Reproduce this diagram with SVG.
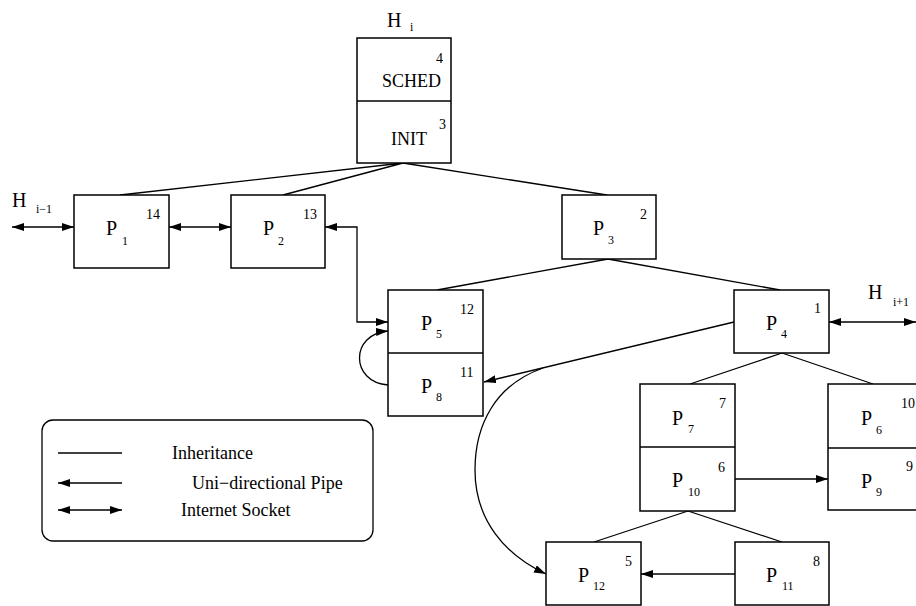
<svg xmlns="http://www.w3.org/2000/svg" width="916" height="606" viewBox="0 0 916 606">
<defs>
<marker id="ah" viewBox="0 0 12 8" refX="12" refY="4" markerWidth="12" markerHeight="8" markerUnits="userSpaceOnUse" orient="auto-start-reverse">
<path d="M0,0 L12,4 L0,8 Z" fill="#000"/>
</marker>
</defs>
<style>
rect.b{fill:#fff;stroke:#000;stroke-width:1.5}
line.d,path.d{stroke:#000;stroke-width:1.5;fill:none}
.c{stroke:#000;stroke-width:1.3;fill:none}
text{font-family:"Liberation Serif","Times New Roman",serif;fill:#000}
.p{font-size:20px}
.s{font-size:12px}
.n{font-size:14px}
.t{font-size:18px}
</style>
<rect width="916" height="606" fill="#fff"/>
<g id="connectors">
<path class="c" d="M403,163 L120,195 M403,163 L283,195 M403,163 L607,195"/>
<path class="c" d="M608,259 L437,290 M608,259 L780,290"/>
<path class="c" d="M782,353 L690,384 M782,353 L873,384"/>
<path class="c" d="M688,511 L594,542 M688,511 L782,542"/>
<line class="c" x1="12" y1="227" x2="74" y2="227" marker-start="url(#ah)" marker-end="url(#ah)"/>
<line class="c" x1="169" y1="227" x2="231" y2="227" marker-start="url(#ah)" marker-end="url(#ah)"/>
<path class="c" d="M325,227 H357 V322 H388" marker-start="url(#ah)" marker-end="url(#ah)"/>
<path class="c" d="M388,385 C350,382 350,334 388,331" marker-end="url(#ah)"/>
<line class="c" x1="734" y1="322" x2="484" y2="382" marker-end="url(#ah)"/>
<path class="c" d="M543,368 C495,385 475,425 475,470 C475,520 505,555 546,574" marker-end="url(#ah)"/>
<line class="c" x1="829" y1="322" x2="916" y2="322" marker-start="url(#ah)" marker-end="url(#ah)"/>
<line class="c" x1="735" y1="479" x2="828" y2="479" marker-end="url(#ah)"/>
<line class="c" x1="735" y1="574" x2="641" y2="574" marker-end="url(#ah)"/>
</g>
<g id="Hi">
<rect class="b" x="357" y="38" width="94" height="125"/>
<line class="c" x1="357" y1="101" x2="451" y2="101"/>
<text class="p" x="387" y="27">H</text><text class="s" x="410" y="31">i</text>
<text class="n" x="436" y="63">4</text>
<text class="t" x="382" y="87">SCHED</text>
<text class="n" x="439" y="129">3</text>
<text class="t" x="391" y="145">INIT</text>
</g>
<g id="Hi-1">
<text class="p" x="12" y="207">H</text><text class="s" x="36" y="213">i−1</text>
</g>
<g id="Hi+1">
<text class="p" x="868" y="299">H</text><text class="s" x="893" y="306">i+1</text>
</g>
<g id="P1">
<rect class="b" x="74" y="195" width="95" height="73"/>
<text class="p" x="106" y="235">P</text><text class="s" x="122" y="245">1</text>
<text class="n" x="146" y="219">14</text>
</g>
<g id="P2">
<rect class="b" x="231" y="195" width="94" height="73"/>
<text class="p" x="263" y="235">P</text><text class="s" x="278" y="245">2</text>
<text class="n" x="303" y="219">13</text>
</g>
<g id="P3">
<rect class="b" x="562" y="195" width="94" height="64"/>
<text class="p" x="593" y="235">P</text><text class="s" x="608" y="244">3</text>
<text class="n" x="640" y="219">2</text>
</g>
<g id="P4">
<rect class="b" x="734" y="290" width="95" height="63"/>
<text class="p" x="766" y="330">P</text><text class="s" x="781" y="338">4</text>
<text class="n" x="814" y="313">1</text>
</g>
<g id="P5P8">
<rect class="b" x="388" y="290" width="95" height="126"/>
<line class="c" x1="388" y1="353" x2="483" y2="353"/>
<text class="p" x="421" y="330">P</text><text class="s" x="436" y="338">5</text>
<text class="n" x="460" y="314">12</text>
<text class="p" x="421" y="393">P</text><text class="s" x="436" y="401">8</text>
<text class="n" x="460" y="377">11</text>
</g>
<g id="P7P10">
<rect class="b" x="640" y="384" width="95" height="127"/>
<line class="c" x1="640" y1="447" x2="735" y2="447"/>
<text class="p" x="672" y="425">P</text><text class="s" x="688" y="433">7</text>
<text class="n" x="719" y="408">7</text>
<text class="p" x="672" y="487">P</text><text class="s" x="688" y="496">10</text>
<text class="n" x="718" y="472">6</text>
</g>
<g id="P6P9">
<rect class="b" x="828" y="384" width="94" height="126"/>
<line class="c" x1="828" y1="448" x2="922" y2="448"/>
<text class="p" x="861" y="425">P</text><text class="s" x="876" y="434">6</text>
<text class="n" x="901" y="408">10</text>
<text class="p" x="861" y="488">P</text><text class="s" x="876" y="496">9</text>
<text class="n" x="906" y="471">9</text>
</g>
<g id="P12">
<rect class="b" x="546" y="542" width="95" height="63"/>
<text class="p" x="578" y="582">P</text><text class="s" x="593" y="590">12</text>
<text class="n" x="625" y="566">5</text>
</g>
<g id="P11">
<rect class="b" x="735" y="542" width="94" height="63"/>
<text class="p" x="766" y="582">P</text><text class="s" x="782" y="590">11</text>
<text class="n" x="813" y="566">8</text>
</g>
<g id="legend">
<rect x="42" y="420" width="331" height="121" rx="11" ry="11" fill="none" stroke="#000" stroke-width="1.3"/>
<line class="c" x1="58" y1="453" x2="122" y2="453"/>
<line class="c" x1="58" y1="483" x2="122" y2="483" marker-start="url(#ah)"/>
<line class="c" x1="58" y1="510" x2="122" y2="510" marker-start="url(#ah)" marker-end="url(#ah)"/>
<text class="t" x="172" y="459">Inheritance</text>
<text class="t" x="192" y="489">Uni−directional Pipe</text>
<text class="t" x="181" y="516">Internet Socket</text>
</g>
</svg>
